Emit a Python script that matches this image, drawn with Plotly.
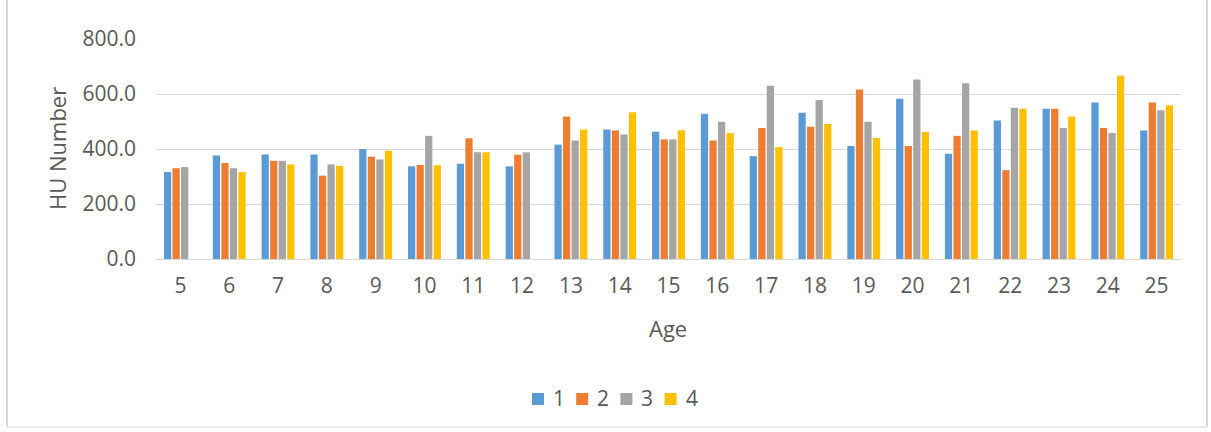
import plotly.graph_objects as go

# Mean HU number per age, four groups
ages = [str(a) for a in range(5, 26)]
series_names = ["1", "2", "3", "4"]
group1 = [316, 376, 380, 380, 400, 337, 346, 337, 416, 471, 463, 528, 374, 532, 411, 583, 383, 504, 546, 569, 467]
group2 = [330, 349, 357, 303, 372, 342, 439, 379, 518, 467, 435, 431, 476, 481, 616, 411, 448, 323, 546, 476, 569]
group3 = [334, 330, 357, 344, 362, 448, 388, 388, 431, 453, 435, 499, 630, 578, 499, 653, 639, 550, 476, 458, 541]
group4 = [None, 316, 344, 339, 394, 341, 388, None, 471, 534, 468, 458, 407, 491, 440, 462, 467, 546, 518, 666, 559]
y_ticks = [0, 200, 400, 600, 800]

colors = ["#5B9BD5", "#ED7D31", "#A5A5A5", "#FFC000"]
text_color = "#595959"
font_family = "Open Sans, Noto Sans, DejaVu Sans, sans-serif"

W, H = 1211, 432
L, R, T, B = 156, 30, 39, 173
pw, ph = W - L - R, H - T - B


def px_x(x):
    return (x - L) / pw


def px_y(y):
    return (H - B - y) / ph


fig = go.Figure()
for name, vals, col in zip(series_names, [group1, group2, group3, group4], colors):
    fig.add_trace(go.Bar(x=ages, y=vals, name=name, marker=dict(color=col, line=dict(width=0)),
                         showlegend=False))

# Compact legend row below the axis title: colour key square followed by the series name
legend_shapes = []
legend_labels = []
key_left = 532
key_step = 44.2
key_size = 12
key_cy = 399
for i, (name, col) in enumerate(zip(series_names, colors)):
    x0 = key_left + i * key_step
    legend_shapes.append(dict(type="rect", xref="paper", yref="paper",
                              x0=px_x(x0), x1=px_x(x0 + key_size),
                              y0=px_y(key_cy - key_size / 2), y1=px_y(key_cy + key_size / 2),
                              fillcolor=col, line=dict(width=0)))
    legend_labels.append(dict(text=name, xref="paper", yref="paper", x=px_x(x0 + key_size + 7),
                              y=px_y(key_cy - 1), xanchor="left", yanchor="middle", showarrow=False,
                              font=dict(size=21, color=text_color)))

border = [
    dict(type="line", xref="paper", yref="paper", x0=px_x(7), x1=px_x(7), y0=px_y(0), y1=px_y(427),
         line=dict(color="#D9D9D9", width=2)),
    dict(type="line", xref="paper", yref="paper", x0=px_x(1207), x1=px_x(1207), y0=px_y(0), y1=px_y(427),
         line=dict(color="#D9D9D9", width=2)),
    dict(type="line", xref="paper", yref="paper", x0=px_x(7), x1=px_x(1207), y0=px_y(427), y1=px_y(427),
         line=dict(color="#EBEBEB", width=2)),
]

fig.update_layout(
    width=W, height=H,
    margin=dict(l=L, r=R, t=T, b=B),
    paper_bgcolor="white", plot_bgcolor="white",
    barmode="group", bargap=0.3, bargroupgap=0.15,
    font=dict(family=font_family, color=text_color, size=20),
    showlegend=False,
    xaxis=dict(type="category", showgrid=False, showline=True, linecolor="#D9D9D9", linewidth=1,
               ticks="", tickfont=dict(size=21, color=text_color), ticklabelstandoff=8),
    yaxis=dict(range=[0, 800], tickvals=y_ticks, ticktext=[f"{v:.1f}" for v in y_ticks],
               showgrid=True, gridcolor="#D9D9D9", gridwidth=1, zeroline=False, showline=False,
               ticks="", tickfont=dict(size=21, color=text_color), ticklabelstandoff=19),
    annotations=[
        dict(text="HU Number", xref="paper", yref="paper", x=px_x(57), y=px_y(149), textangle=-90,
             showarrow=False, xanchor="center", yanchor="middle", font=dict(size=22, color=text_color)),
        dict(text="Age", xref="paper", yref="paper", x=px_x(668), y=px_y(328),
             showarrow=False, xanchor="center", yanchor="middle", font=dict(size=22, color=text_color)),
    ] + legend_labels,
    shapes=border + legend_shapes,
)

fig.write_html("out.html")
